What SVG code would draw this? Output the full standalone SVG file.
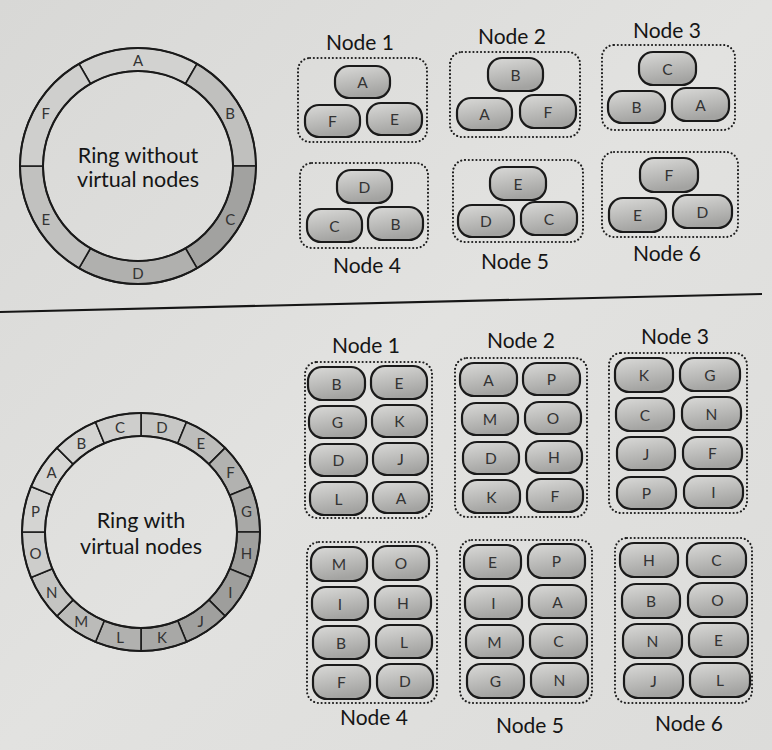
<svg xmlns="http://www.w3.org/2000/svg" width="772" height="750" viewBox="0 0 772 750">
<defs>
<linearGradient id="pg" x1="0" y1="0" x2="0.3" y2="1">
<stop offset="0" stop-color="#dadad8"/>
<stop offset="1" stop-color="#a3a3a1"/>
</linearGradient>
<linearGradient id="bg" x1="0" y1="0" x2="1" y2="1">
<stop offset="0" stop-color="#d8d8d6"/>
<stop offset="0.5" stop-color="#e2e2e0"/>
<stop offset="1" stop-color="#dcdcda"/>
</linearGradient>
<path id="seg6" d="M -59 -102.19 A 118 118 0 0 1 59 -102.19 L 47.5 -82.27 A 95 95 0 0 0 -47.5 -82.27 Z"/>
<path id="seg16" d="M -23.22 -116.71 A 119 119 0 0 1 23.22 -116.71 L 18.73 -94.16 A 96 96 0 0 0 -18.73 -94.16 Z"/>
</defs>
<style>
.pill{fill:url(#pg);stroke:#1a1a1a;stroke-width:2.2}
.box{fill:none;stroke:#1e1e1e;stroke-width:2.1;stroke-dasharray:0.1 3.7;stroke-linecap:round}
.pt{font-family:Lato,"Liberation Sans",sans-serif;font-size:15.5px;fill:#333;text-anchor:middle;dominant-baseline:central}
.title{font-family:Lato,"Liberation Sans",sans-serif;font-size:21px;fill:#151515;text-anchor:middle}
.rt{font-family:Lato,"Liberation Sans",sans-serif;font-size:21.5px;fill:#151515;text-anchor:middle}
.rl{font-family:Lato,"Liberation Sans",sans-serif;font-size:15px;fill:#333;text-anchor:middle;dominant-baseline:central}
.segs use{stroke:#1a1a1a;stroke-width:1.6}
.ring{fill:none;stroke:#1a1a1a;stroke-width:2}
</style>
<rect width="772" height="750" fill="url(#bg)"/>

<g id="ring1" transform="translate(138,166)">
<g class="segs">
<use href="#seg6" fill="#d2d2d0"/>
<use href="#seg6" fill="#c0c0be" transform="rotate(60)"/>
<use href="#seg6" fill="#a2a2a0" transform="rotate(120)"/>
<use href="#seg6" fill="#b0b0ae" transform="rotate(180)"/>
<use href="#seg6" fill="#c1c1bf" transform="rotate(240)"/>
<use href="#seg6" fill="#cfcfcd" transform="rotate(300)"/>
</g>
<circle class="ring" r="118"/>
<circle class="ring" r="95"/>
<text class="rl" x="0" y="-106.5">A</text>
<text class="rl" x="92.2" y="-53.25">B</text>
<text class="rl" x="92.2" y="53.25">C</text>
<text class="rl" x="0" y="106.5">D</text>
<text class="rl" x="-92.2" y="53.25">E</text>
<text class="rl" x="-92.2" y="-53.25">F</text>
<text class="rt" x="0" y="-3">Ring without</text>
<text class="rt" x="0" y="21">virtual nodes</text>
</g>

<g id="ring2" transform="translate(141,532)">
<g class="segs">
<use href="#seg16" fill="#c7c7c5" transform="rotate(11.25)"/>
<use href="#seg16" fill="#bdbdbb" transform="rotate(33.75)"/>
<use href="#seg16" fill="#b2b2b0" transform="rotate(56.25)"/>
<use href="#seg16" fill="#a9a9a7" transform="rotate(78.75)"/>
<use href="#seg16" fill="#a0a09e" transform="rotate(101.25)"/>
<use href="#seg16" fill="#9e9e9c" transform="rotate(123.75)"/>
<use href="#seg16" fill="#a0a09e" transform="rotate(146.25)"/>
<use href="#seg16" fill="#a8a8a6" transform="rotate(168.75)"/>
<use href="#seg16" fill="#b1b1af" transform="rotate(191.25)"/>
<use href="#seg16" fill="#bbbbb9" transform="rotate(213.75)"/>
<use href="#seg16" fill="#c4c4c2" transform="rotate(236.25)"/>
<use href="#seg16" fill="#cdcdcb" transform="rotate(258.75)"/>
<use href="#seg16" fill="#d4d4d2" transform="rotate(281.25)"/>
<use href="#seg16" fill="#d6d6d4" transform="rotate(303.75)"/>
<use href="#seg16" fill="#d4d4d2" transform="rotate(326.25)"/>
<use href="#seg16" fill="#cececc" transform="rotate(348.75)"/>
</g>
<circle class="ring" r="119"/>
<circle class="ring" r="96"/>
<text class="rl" x="20.97" y="-105.43">D</text>
<text class="rl" x="59.73" y="-89.39">E</text>
<text class="rl" x="89.39" y="-59.73">F</text>
<text class="rl" x="105.43" y="-20.97">G</text>
<text class="rl" x="105.43" y="20.97">H</text>
<text class="rl" x="89.39" y="59.73">I</text>
<text class="rl" x="59.73" y="89.39">J</text>
<text class="rl" x="20.97" y="105.43">K</text>
<text class="rl" x="-20.97" y="105.43">L</text>
<text class="rl" x="-59.73" y="89.39">M</text>
<text class="rl" x="-89.39" y="59.73">N</text>
<text class="rl" x="-105.43" y="20.97">O</text>
<text class="rl" x="-105.43" y="-20.97">P</text>
<text class="rl" x="-89.39" y="-59.73">A</text>
<text class="rl" x="-59.73" y="-89.39">B</text>
<text class="rl" x="-20.97" y="-105.43">C</text>
<text class="rt" x="0" y="-4">Ring with</text>
<text class="rt" x="0" y="22">virtual nodes</text>
</g>

<g id="separator">
<line x1="0" y1="312" x2="762" y2="294" stroke="#161616" stroke-width="2.2"/>
</g>

<!-- top nodes -->
<g id="top-node1">
<text class="title" x="360" y="50">Node 1</text>
<rect class="box" x="298" y="58" width="129" height="84" rx="12"/>
<rect class="pill" x="335" y="66" width="55" height="32" rx="14"/><text class="pt" x="362.5" y="82">A</text>
<rect class="pill" x="305" y="105" width="55" height="32" rx="14"/><text class="pt" x="332.5" y="121">F</text>
<rect class="pill" x="367" y="103" width="55" height="32" rx="14"/><text class="pt" x="394.5" y="119">E</text>
</g>
<g id="top-node2">
<text class="title" x="512" y="44">Node 2</text>
<rect class="box" x="450" y="52" width="130" height="85" rx="12"/>
<rect class="pill" x="488" y="58" width="55" height="33" rx="14"/><text class="pt" x="515.5" y="74.5">B</text>
<rect class="pill" x="457" y="98" width="55" height="32" rx="14"/><text class="pt" x="484.5" y="114">A</text>
<rect class="pill" x="520" y="95" width="56" height="33" rx="14"/><text class="pt" x="548" y="111.5">F</text>
</g>
<g id="top-node3">
<text class="title" x="667" y="38">Node 3</text>
<rect class="box" x="602" y="45" width="133" height="85" rx="12"/>
<rect class="pill" x="639" y="52" width="57" height="33" rx="14"/><text class="pt" x="667.5" y="68.5">C</text>
<rect class="pill" x="608" y="91" width="57" height="32" rx="14"/><text class="pt" x="636.5" y="107">B</text>
<rect class="pill" x="672" y="88" width="57" height="33" rx="14"/><text class="pt" x="700.5" y="104.5">A</text>
</g>
<g id="top-node4">
<text class="title" x="367" y="273">Node 4</text>
<rect class="box" x="300" y="163" width="128" height="85" rx="12"/>
<rect class="pill" x="337" y="170" width="55" height="33" rx="14"/><text class="pt" x="364.5" y="186.5">D</text>
<rect class="pill" x="307" y="209" width="55" height="33" rx="14"/><text class="pt" x="334.5" y="225.5">C</text>
<rect class="pill" x="368" y="207" width="55" height="33" rx="14"/><text class="pt" x="395.5" y="223.5">B</text>
</g>
<g id="top-node5">
<text class="title" x="515" y="269">Node 5</text>
<rect class="box" x="453" y="160" width="130" height="82" rx="12"/>
<rect class="pill" x="490" y="167" width="56" height="33" rx="14"/><text class="pt" x="518" y="183.5">E</text>
<rect class="pill" x="458" y="205" width="56" height="32" rx="14"/><text class="pt" x="486" y="221">D</text>
<rect class="pill" x="521" y="202" width="56" height="33" rx="14"/><text class="pt" x="549" y="218.5">C</text>
</g>
<g id="top-node6">
<text class="title" x="667" y="261">Node 6</text>
<rect class="box" x="602" y="152" width="136" height="85" rx="12"/>
<rect class="pill" x="640" y="158" width="58" height="34" rx="14"/><text class="pt" x="669" y="175">F</text>
<rect class="pill" x="609" y="198" width="57" height="34" rx="14"/><text class="pt" x="637.5" y="215">E</text>
<rect class="pill" x="673" y="195" width="59" height="33" rx="14"/><text class="pt" x="702.5" y="211.5">D</text>
</g>

<!-- bottom nodes -->
<g id="vnode1">
<text class="title" x="366" y="353">Node 1</text>
<rect class="box" x="305" y="362" width="127" height="156" rx="12"/>
<rect class="pill" x="308" y="367" width="57" height="33" rx="14"/><text class="pt" x="336.5" y="383.5">B</text>
<rect class="pill" x="371" y="366" width="56" height="33" rx="14"/><text class="pt" x="399" y="382.5">E</text>
<rect class="pill" x="309" y="406" width="57" height="32" rx="14"/><text class="pt" x="337.5" y="422">G</text>
<rect class="pill" x="372" y="405" width="55" height="32" rx="14"/><text class="pt" x="399.5" y="421">K</text>
<rect class="pill" x="310" y="444" width="57" height="32" rx="14"/><text class="pt" x="338.5" y="460">D</text>
<rect class="pill" x="373" y="443" width="55" height="32" rx="14"/><text class="pt" x="400.5" y="459">J</text>
<rect class="pill" x="310" y="482" width="57" height="33" rx="14"/><text class="pt" x="338.5" y="498.5">L</text>
<rect class="pill" x="373" y="482" width="56" height="31" rx="14"/><text class="pt" x="401" y="497.5">A</text>
</g>
<g id="vnode2">
<text class="title" x="521" y="348">Node 2</text>
<rect class="box" x="455" y="358" width="132" height="159" rx="12"/>
<rect class="pill" x="460" y="363" width="57" height="33" rx="14"/><text class="pt" x="488.5" y="379.5">A</text>
<rect class="pill" x="523" y="363" width="57" height="32" rx="14"/><text class="pt" x="551.5" y="379">P</text>
<rect class="pill" x="462" y="403" width="56" height="32" rx="14"/><text class="pt" x="490" y="419">M</text>
<rect class="pill" x="525" y="402" width="56" height="32" rx="14"/><text class="pt" x="553" y="418">O</text>
<rect class="pill" x="463" y="442" width="56" height="32" rx="14"/><text class="pt" x="491" y="458">D</text>
<rect class="pill" x="526" y="441" width="56" height="32" rx="14"/><text class="pt" x="554" y="457">H</text>
<rect class="pill" x="463" y="480" width="57" height="33" rx="14"/><text class="pt" x="491.5" y="496.5">K</text>
<rect class="pill" x="527" y="479" width="56" height="33" rx="14"/><text class="pt" x="555" y="495.5">F</text>
</g>
<g id="vnode3">
<text class="title" x="675" y="344">Node 3</text>
<rect class="box" x="609" y="353" width="138" height="160" rx="12"/>
<rect class="pill" x="615" y="358" width="58" height="34" rx="14"/><text class="pt" x="644" y="375">K</text>
<rect class="pill" x="680" y="358" width="60" height="33" rx="14"/><text class="pt" x="710" y="374.5">G</text>
<rect class="pill" x="616" y="398" width="58" height="33" rx="14"/><text class="pt" x="645" y="414.5">C</text>
<rect class="pill" x="682" y="397" width="59" height="33" rx="14"/><text class="pt" x="711.5" y="413.5">N</text>
<rect class="pill" x="617" y="437" width="58" height="33" rx="14"/><text class="pt" x="646" y="453.5">J</text>
<rect class="pill" x="683" y="437" width="59" height="32" rx="14"/><text class="pt" x="712.5" y="453">F</text>
<rect class="pill" x="617" y="477" width="59" height="32" rx="14"/><text class="pt" x="646.5" y="493">P</text>
<rect class="pill" x="684" y="476" width="59" height="32" rx="14"/><text class="pt" x="713.5" y="492">I</text>
</g>
<g id="vnode4">
<text class="title" x="374" y="725">Node 4</text>
<rect class="box" x="307" y="542" width="130" height="161" rx="12"/>
<rect class="pill" x="311" y="547" width="56" height="34" rx="14"/><text class="pt" x="339" y="564">M</text>
<rect class="pill" x="373" y="546" width="56" height="34" rx="14"/><text class="pt" x="401" y="563">O</text>
<rect class="pill" x="312" y="587" width="56" height="33" rx="14"/><text class="pt" x="340" y="603.5">I</text>
<rect class="pill" x="375" y="586" width="56" height="33" rx="14"/><text class="pt" x="403" y="602.5">H</text>
<rect class="pill" x="313" y="626" width="56" height="33" rx="14"/><text class="pt" x="341" y="642.5">B</text>
<rect class="pill" x="376" y="625" width="56" height="33" rx="14"/><text class="pt" x="404" y="641.5">L</text>
<rect class="pill" x="313" y="665" width="57" height="34" rx="14"/><text class="pt" x="341.5" y="682">F</text>
<rect class="pill" x="377" y="664" width="56" height="34" rx="14"/><text class="pt" x="405" y="681">D</text>
</g>
<g id="vnode5">
<text class="title" x="530" y="733">Node 5</text>
<rect class="box" x="460" y="540" width="132" height="163" rx="12"/>
<rect class="pill" x="464" y="545" width="57" height="34" rx="14"/><text class="pt" x="492.5" y="562">E</text>
<rect class="pill" x="528" y="544" width="57" height="34" rx="14"/><text class="pt" x="556.5" y="561">P</text>
<rect class="pill" x="465" y="586" width="57" height="33" rx="14"/><text class="pt" x="493.5" y="602.5">I</text>
<rect class="pill" x="529" y="585" width="57" height="33" rx="14"/><text class="pt" x="557.5" y="601.5">A</text>
<rect class="pill" x="466" y="625" width="57" height="33" rx="14"/><text class="pt" x="494.5" y="641.5">M</text>
<rect class="pill" x="530" y="624" width="57" height="34" rx="14"/><text class="pt" x="558.5" y="641">C</text>
<rect class="pill" x="467" y="664" width="57" height="34" rx="14"/><text class="pt" x="495.5" y="681">G</text>
<rect class="pill" x="531" y="663" width="57" height="34" rx="14"/><text class="pt" x="559.5" y="680">N</text>
</g>
<g id="vnode6">
<text class="title" x="689" y="731">Node 6</text>
<rect class="box" x="615" y="538" width="137" height="165" rx="12"/>
<rect class="pill" x="620" y="543" width="58" height="34" rx="14"/><text class="pt" x="649" y="560">H</text>
<rect class="pill" x="687" y="543" width="59" height="34" rx="14"/><text class="pt" x="716.5" y="560">C</text>
<rect class="pill" x="622" y="584" width="58" height="34" rx="14"/><text class="pt" x="651" y="601">B</text>
<rect class="pill" x="688" y="583" width="59" height="34" rx="14"/><text class="pt" x="717.5" y="600">O</text>
<rect class="pill" x="623" y="624" width="59" height="34" rx="14"/><text class="pt" x="652.5" y="641">N</text>
<rect class="pill" x="689" y="623" width="59" height="34" rx="14"/><text class="pt" x="718.5" y="640">E</text>
<rect class="pill" x="624" y="664" width="59" height="34" rx="14"/><text class="pt" x="653.5" y="681">J</text>
<rect class="pill" x="690" y="663" width="60" height="34" rx="14"/><text class="pt" x="720" y="680">L</text>
</g>
</svg>
